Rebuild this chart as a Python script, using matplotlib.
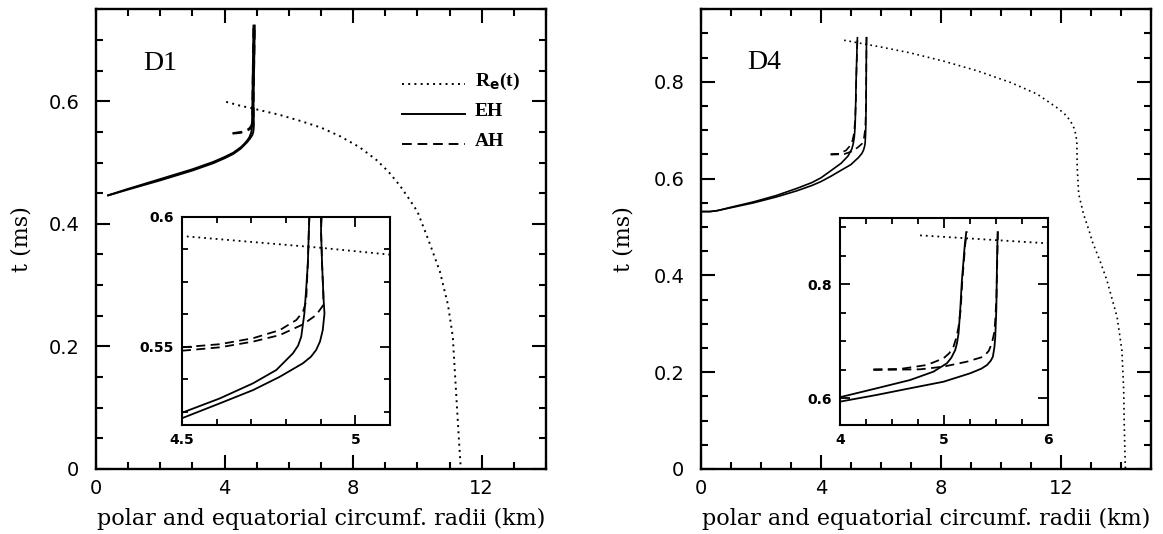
import matplotlib
matplotlib.use("Agg")
import matplotlib.pyplot as plt
from matplotlib.ticker import MultipleLocator, FixedLocator, FixedFormatter

# ---- D1 data (radius in km, t in ms) ----
d1_re_r = [4.05, 4.5, 4.9, 5.09, 5.7, 6.35, 7.0, 7.59, 8.2, 8.73, 9.1, 9.46, 9.75, 10.0, 10.34, 10.7, 10.95, 11.1, 11.22, 11.3, 11.35]
d1_re_t = [0.599, 0.5925, 0.588, 0.5855, 0.578, 0.568, 0.557, 0.543, 0.525, 0.504, 0.485, 0.462, 0.44, 0.42, 0.374, 0.322, 0.268, 0.216, 0.11, 0.04, 0.0]

d1_ehp_r = [0.35, 1.0, 2.0, 3.0, 3.65, 4.0, 4.27, 4.5, 4.609, 4.705, 4.772, 4.82, 4.835, 4.844, 4.853, 4.858, 4.863, 4.866, 4.875, 4.90]
d1_ehp_t = [0.446, 0.457, 0.473, 0.489, 0.501, 0.509, 0.516, 0.5247, 0.5302, 0.536, 0.5411, 0.5475, 0.5505, 0.5539, 0.5628, 0.5718, 0.582, 0.5948, 0.63, 0.725]
d1_ehe_r = [0.35, 1.0, 2.0, 3.0, 3.65, 4.0, 4.27, 4.5, 4.609, 4.705, 4.782, 4.849, 4.872, 4.887, 4.898, 4.906, 4.911, 4.908, 4.904, 4.901, 4.91, 4.94]
d1_ehe_t = [0.446, 0.456, 0.471, 0.487, 0.499, 0.507, 0.514, 0.5226, 0.5283, 0.5334, 0.5385, 0.5437, 0.5462, 0.5488, 0.552, 0.5564, 0.5628, 0.5692, 0.582, 0.5948, 0.63, 0.725]

d1_ahp_r = [4.25, 4.5, 4.609, 4.705, 4.782, 4.83, 4.849, 4.858, 4.863, 4.866, 4.875, 4.90]
d1_ahp_t = [0.5478, 0.5498, 0.551, 0.5533, 0.5564, 0.5603, 0.5635, 0.5673, 0.582, 0.5948, 0.63, 0.725]
d1_ahe_r = [4.25, 4.5, 4.609, 4.705, 4.782, 4.849, 4.887, 4.906, 4.908, 4.904, 4.901, 4.91, 4.94]
d1_ahe_t = [0.5472, 0.5485, 0.5498, 0.552, 0.5545, 0.5586, 0.5622, 0.5657, 0.5692, 0.582, 0.5948, 0.63, 0.725]

# ---- D4 data ----
d4_re_r = [4.77, 6.0, 6.97, 8.08, 9.2, 10.31, 11.2, 11.86, 12.1, 12.31, 12.43, 12.5, 12.53, 12.54, 12.59, 12.75, 12.97,
           13.03, 13.3, 13.53, 13.87, 14.03, 14.09, 14.11, 14.14, 14.15]
d4_re_t = [0.886, 0.872, 0.860, 0.843, 0.823, 0.799, 0.775, 0.747, 0.735, 0.72, 0.705, 0.69, 0.672, 0.623, 0.568, 0.527, 0.486,
           0.472, 0.43, 0.39, 0.314, 0.245, 0.163, 0.087, 0.012, 0.0]

d4_ehp_r = [0.0, 0.3, 0.55, 1.0, 1.75, 2.5, 3.2, 3.7, 4.0, 4.353, 4.674, 4.899, 5.028, 5.07, 5.108, 5.125, 5.14, 5.156, 5.172, 5.188, 5.2, 5.215]
d4_ehp_t = [0.532, 0.532, 0.534, 0.541, 0.552, 0.565, 0.58, 0.592, 0.6018, 0.6175, 0.632, 0.6467, 0.6614, 0.671, 0.6847, 0.697, 0.714, 0.755, 0.807, 0.8426, 0.87, 0.893]
d4_ehe_r = [0.0, 0.3, 0.55, 1.0, 1.75, 2.5, 3.2, 3.7, 4.0, 4.353, 4.674, 4.995, 5.253, 5.36, 5.414, 5.45, 5.47, 5.485, 5.493, 5.503, 5.51, 5.516]
d4_ehe_t = [0.532, 0.532, 0.534, 0.540, 0.550, 0.562, 0.575, 0.586, 0.594, 0.6058, 0.6175, 0.629, 0.6439, 0.652, 0.6584, 0.666, 0.673, 0.69, 0.708, 0.755, 0.8426, 0.893]

d4_ahp_r = [4.321, 4.578, 4.835, 4.995, 5.05, 5.091, 5.12, 5.14, 5.16, 5.176, 5.192, 5.204, 5.219]
d4_ahp_t = [0.6508, 0.6514, 0.6584, 0.670, 0.679, 0.6905, 0.707, 0.7256, 0.755, 0.807, 0.8426, 0.87, 0.893]
d4_ahe_r = [4.321, 4.771, 4.995, 5.22, 5.38, 5.43, 5.46, 5.483, 5.493, 5.505, 5.512, 5.518]
d4_ahe_t = [0.6496, 0.6508, 0.6555, 0.6642, 0.673, 0.683, 0.6965, 0.715, 0.737, 0.78, 0.8426, 0.893]

xlabel = "polar and equatorial circumf. radii (km)"

W, H = 1163, 534
fig = plt.figure(figsize=(W / 100, H / 100), dpi=100)

DOT = (0, (1, 2.2))
DASH = (0, (5, 3))


def box(x0, y0, x1, y1):
    # pixel box -> figure fraction
    return [x0 / W, (H - y1) / H, (x1 - x0) / W, (y1 - y0) / H]


def style_main(ax, xmax, ymax):
    ax.set_xlim(0, xmax)
    ax.set_ylim(0, ymax)
    ax.xaxis.set_major_locator(MultipleLocator(4))
    ax.xaxis.set_minor_locator(MultipleLocator(1))
    ax.yaxis.set_major_locator(MultipleLocator(0.2))
    ax.yaxis.set_minor_locator(MultipleLocator(0.05))
    ax.yaxis.set_major_formatter(plt.FuncFormatter(lambda v, p: "0" if abs(v) < 1e-9 else f"{v:.1f}"))
    ax.tick_params(which="both", direction="in", top=True, right=True, width=1.5, labelsize=14)
    ax.tick_params(which="major", length=10)
    ax.tick_params(axis="y", which="major", pad=12)
    ax.tick_params(axis="x", which="major", pad=7)
    ax.tick_params(which="minor", length=5)
    for s in ax.spines.values():
        s.set_linewidth(1.7)
    ax.set_xlabel(xlabel, fontsize=16, family="DejaVu Serif")
    ax.xaxis.set_label_coords(0.5, -0.085)
    ax.set_ylabel("t (ms)", fontsize=16, family="DejaVu Serif")


def style_inset(ax):
    ax.tick_params(which="both", direction="in", top=True, right=True, width=1.3, labelsize=10)
    ax.tick_params(which="major", length=7, pad=6)
    ax.tick_params(which="minor", length=4)
    for lab in ax.get_xticklabels() + ax.get_yticklabels():
        lab.set_fontweight("bold")
    for s in ax.spines.values():
        s.set_linewidth(1.5)


def draw(ax, lw, series):
    for r, t, ls in series:
        ax.plot(r, t, color="black", lw=lw, linestyle=ls, solid_capstyle="butt", solid_joinstyle="round")


d1_series = [
    (d1_re_r, d1_re_t, DOT),
    (d1_ehp_r, d1_ehp_t, "-"),
    (d1_ehe_r, d1_ehe_t, "-"),
    (d1_ahp_r, d1_ahp_t, DASH),
    (d1_ahe_r, d1_ahe_t, DASH),
]
d4_series = [
    (d4_re_r, d4_re_t, DOT),
    (d4_ehp_r, d4_ehp_t, "-"),
    (d4_ehe_r, d4_ehe_t, "-"),
    (d4_ahp_r, d4_ahp_t, DASH),
    (d4_ahe_r, d4_ahe_t, DASH),
]

# ---- left panel: D1 ----
ax1 = fig.add_axes(box(96, 9.3, 546, 469))
draw(ax1, 1.4, d1_series)
style_main(ax1, 14, 0.75)
ax1.yaxis.set_label_coords(-0.14, 0.5)
ax1.text(0.105, 0.883, "D1", transform=ax1.transAxes, fontsize=20, family="Liberation Serif", va="center")

# legend drawn by hand
leg = [("R$_\\mathbf{e}$(t)", DOT, 0.8375), ("EH", "-", 0.7722), ("AH", DASH, 0.707)]
for lab, ls, yy in leg:
    ax1.plot([0.68, 0.82], [yy, yy], transform=ax1.transAxes, color="black", lw=1.4, linestyle=ls)
    ax1.text(0.842, yy + 0.005, lab, transform=ax1.transAxes, fontsize=14, family="Liberation Serif",
             fontweight="bold", va="center")

in1 = fig.add_axes(box(182, 216.5, 390, 425))
draw(in1, 1.3, d1_series)
in1.set_xlim(4.5, 5.1)
in1.set_ylim(0.52, 0.6)
in1.xaxis.set_major_locator(FixedLocator([4.5, 5.0]))
in1.xaxis.set_major_formatter(FixedFormatter(["4.5", "5"]))
in1.xaxis.set_minor_locator(MultipleLocator(0.1))
in1.yaxis.set_major_locator(FixedLocator([0.55, 0.6]))
in1.yaxis.set_major_formatter(FixedFormatter(["0.55", "0.6"]))
in1.yaxis.set_minor_locator(MultipleLocator(0.0125))
style_inset(in1)

# ---- right panel: D4 ----
ax2 = fig.add_axes(box(701, 9.3, 1151, 469))
draw(ax2, 1.2, d4_series)
style_main(ax2, 15, 0.95)
ax2.yaxis.set_label_coords(-0.147, 0.5)
ax2.text(0.102, 0.885, "D4", transform=ax2.transAxes, fontsize=20, family="Liberation Serif", va="center")

in2 = fig.add_axes(box(840, 218.3, 1048, 425))
draw(in2, 1.3, d4_series)
in2.set_xlim(4, 6)
in2.set_ylim(0.553, 0.916)
in2.xaxis.set_major_locator(FixedLocator([4, 5, 6]))
in2.xaxis.set_major_formatter(FixedFormatter(["4", "5", "6"]))
in2.xaxis.set_minor_locator(MultipleLocator(0.25))
in2.yaxis.set_major_locator(FixedLocator([0.6, 0.8]))
in2.yaxis.set_major_formatter(FixedFormatter(["0.6", "0.8"]))
in2.yaxis.set_minor_locator(MultipleLocator(0.05))
style_inset(in2)

fig.savefig("out.png", dpi=100)
